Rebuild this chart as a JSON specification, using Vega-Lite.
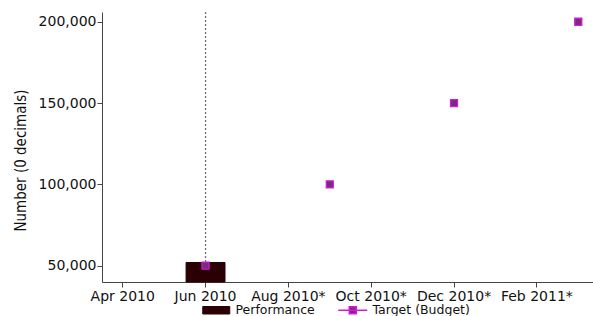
{
  "$schema": "https://vega.github.io/schema/vega-lite/v6.json",
  "width": 491,
  "height": 270,
  "autosize": {"type": "none"},
  "padding": {"left": 102, "top": 12, "right": 0, "bottom": 34},
  "background": "white",
  "config": {
    "view": {"stroke": null},
    "axis": {"grid": false, "domainColor": "#444", "tickColor": "#444", "labelColor": "#111", "titleColor": "#111", "labelFont": "DejaVu Sans", "titleFont": "DejaVu Sans Condensed", "titleFontWeight": "normal"},
    "legend": {"labelFont": "DejaVu Sans", "labelColor": "#111"}
  },
  "data": {
    "values": [
      {"month": "Jun 2010", "performance": 52000, "target": 50000},
      {"month": "Sep 2010*", "performance": null, "target": 100000},
      {"month": "Dec 2010*", "performance": null, "target": 150000},
      {"month": "Mar 2011*", "performance": null, "target": 200000}
    ]
  },
  "encoding": {
    "x": {
      "field": "month",
      "type": "nominal",
      "sort": null,
      "scale": {
        "domain": ["Apr 2010", "May 2010", "Jun 2010", "Jul 2010*", "Aug 2010*", "Sep 2010*", "Oct 2010*", "Nov 2010*", "Dec 2010*", "Jan 2011*", "Feb 2011*", "Mar 2011*"],
        "range": [0, 497],
        "paddingInner": 0.06,
        "paddingOuter": 0.03
      },
      "axis": {
        "title": null,
        "labelAngle": 0,
        "values": ["Apr 2010", "Jun 2010", "Aug 2010*", "Oct 2010*", "Dec 2010*", "Feb 2011*"],
        "labelOverlap": false,
        "labelFontSize": 14,
        "tickSize": 5,
        "labelPadding": 2
      }
    }
  },
  "layer": [
    {
      "transform": [{"filter": "isValid(datum.performance)"}],
      "mark": {"type": "bar", "stroke": "#2a0005", "strokeWidth": 1},
      "encoding": {
        "y": {
          "field": "performance",
          "type": "quantitative",
          "scale": {"domain": [40000, 206000], "nice": false, "zero": false},
          "axis": {
            "title": "Number (0 decimals)",
            "titleFontSize": 15,
            "titlePadding": 10,
            "titleY": 148,
            "values": [50000, 100000, 150000, 200000],
            "format": ",.0f",
            "formatType": "number",
            "labelFontSize": 14,
            "tickSize": 5,
            "labelPadding": 1
          }
        },
        "y2": {"datum": 40000},
        "fill": {
          "datum": "Performance",
          "type": "nominal",
          "scale": {"domain": ["Performance"], "range": ["#2a0005"]},
          "legend": {
            "title": null,
            "orient": "none",
            "legendX": 108,
            "legendY": 292,
            "symbolSize": 100,
            "symbolType": "M-2.7,-0.75H2.7V0.75H-2.7Z",
            "symbolStrokeColor": "#2a0005",
            "symbolStrokeWidth": 1,
            "labelFontSize": 12.5,
            "labelOffset": 13,
            "padding": 0
          }
        }
      }
    },
    {
      "transform": [{"filter": "isValid(datum.performance)"}],
      "mark": {"type": "rule", "color": "#444", "strokeDash": [1.5, 2.5], "strokeWidth": 1.3},
      "encoding": {
        "y": {"field": "target", "type": "quantitative"},
        "y2": {"datum": 206000}
      }
    },
    {
      "mark": {"type": "point", "shape": "square", "filled": false, "fill": "#7a2a80", "fillOpacity": 1, "size": 50, "strokeWidth": 1.2, "opacity": 1},
      "encoding": {
        "y": {"field": "target", "type": "quantitative"},
        "stroke": {
          "datum": "Target (Budget)",
          "type": "nominal",
          "scale": {"domain": ["Target (Budget)"], "range": ["#d818d8"]},
          "legend": {
            "title": null,
            "orient": "none",
            "legendX": 244.5,
            "legendY": 292,
            "symbolSize": 100,
            "symbolType": "M-2.9,0H2.9M-0.7,-0.7H0.7V0.7H-0.7Z",
            "symbolFillColor": "#7a2a80",
            "symbolStrokeWidth": 1.5,
            "labelFontSize": 12.5,
            "labelOffset": 13.5,
            "padding": 0
          }
        }
      }
    }
  ]
}
